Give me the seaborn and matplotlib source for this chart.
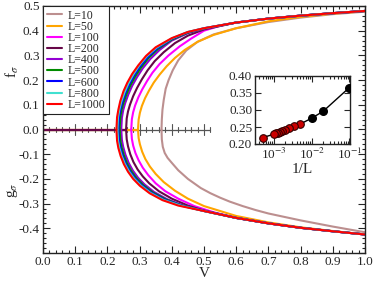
import numpy as np
import pandas as pd
import matplotlib
matplotlib.use("Agg")
import matplotlib.pyplot as plt
import seaborn as sns
from matplotlib.ticker import MultipleLocator

sns.set_style("ticks")
plt.rcParams['font.family'] = ['Liberation Serif', 'DejaVu Serif']
plt.rcParams['mathtext.fontset'] = 'stix'
plt.rcParams['axes.unicode_minus'] = False

# system sizes and their colours (grace-like palette)
L_values = [10, 50, 100, 200, 400, 500, 600, 800, 1000]
L_colors = ['#bc8f8f', '#ffa500', '#ff00ff', '#670748', '#9400d3',
            '#008b00', '#0000ff', '#40e0d0', '#ff0000']

# shared tail (curves for L >= 100 overlap at large V)
v_tail = [0.6, 0.7, 0.8, 0.9, 1.0]
f_tail = [0.433, 0.449, 0.461, 0.471, 0.480]
g_tail = [-0.358, -0.380, -0.398, -0.412, -0.425]

# upper branch f_sigma(V)
v_up_10 = [0.368, 0.369, 0.371, 0.375, 0.381, 0.39, 0.403, 0.42, 0.445, 0.48, 0.53, 0.6, 0.7, 0.8, 0.9, 1.0]
f_up_10 = [0.0, 0.04, 0.08, 0.12, 0.165, 0.2, 0.24, 0.28, 0.32, 0.355, 0.385, 0.41, 0.435, 0.453, 0.467, 0.477]
v_up_50 = [0.295, 0.297, 0.301, 0.307, 0.317, 0.329, 0.344, 0.362, 0.384, 0.41, 0.44, 0.48, 0.53, 0.6, 0.7, 0.8, 0.9, 1.0]
f_up_50 = [0.0, 0.04, 0.068, 0.095, 0.127, 0.157, 0.19, 0.222, 0.256, 0.29, 0.322, 0.355, 0.383, 0.41, 0.438, 0.456, 0.469, 0.479]
v_up_100 = [0.274, 0.276, 0.28, 0.286, 0.296, 0.308, 0.323, 0.34, 0.362, 0.39, 0.425, 0.46, 0.5, 0.55]
f_up_100 = [0.0, 0.042, 0.07, 0.097, 0.13, 0.162, 0.196, 0.23, 0.265, 0.3, 0.337, 0.368, 0.4, 0.42]
v_up_200 = [0.258, 0.26, 0.264, 0.27, 0.28, 0.292, 0.307, 0.325, 0.347, 0.375, 0.41, 0.45, 0.5]
f_up_200 = [0.0, 0.045, 0.073, 0.1, 0.135, 0.168, 0.203, 0.24, 0.277, 0.313, 0.35, 0.38, 0.405]
v_up_400 = [0.243, 0.245, 0.249, 0.255, 0.265, 0.277, 0.292, 0.31, 0.333, 0.362, 0.4, 0.45, 0.5]
f_up_400 = [0.0, 0.048, 0.078, 0.106, 0.142, 0.177, 0.212, 0.248, 0.285, 0.322, 0.36, 0.39, 0.408]
v_up_500 = [0.238, 0.24, 0.244, 0.25, 0.26, 0.272, 0.287, 0.305, 0.328, 0.357, 0.4, 0.45, 0.5]
f_up_500 = [0.0, 0.049, 0.079, 0.108, 0.145, 0.18, 0.216, 0.252, 0.29, 0.326, 0.364, 0.392, 0.409]
v_up_600 = [0.234, 0.236, 0.24, 0.246, 0.256, 0.268, 0.283, 0.301, 0.325, 0.355, 0.4, 0.45, 0.5]
f_up_600 = [0.0, 0.05, 0.08, 0.11, 0.148, 0.183, 0.219, 0.255, 0.293, 0.329, 0.367, 0.394, 0.41]
v_up_800 = [0.231, 0.233, 0.237, 0.243, 0.253, 0.265, 0.28, 0.298, 0.322, 0.352, 0.4, 0.45, 0.5]
f_up_800 = [0.0, 0.05, 0.08, 0.112, 0.15, 0.186, 0.222, 0.258, 0.296, 0.331, 0.369, 0.395, 0.41]
v_up_1000 = [0.228, 0.23, 0.234, 0.24, 0.25, 0.262, 0.277, 0.296, 0.32, 0.35, 0.4, 0.45, 0.5]
f_up_1000 = [0.0, 0.05, 0.08, 0.115, 0.155, 0.19, 0.225, 0.26, 0.298, 0.333, 0.37, 0.395, 0.41]

# lower branch g_sigma(V)
v_lo_10 = [0.368, 0.369, 0.372, 0.378, 0.387, 0.4, 0.42, 0.45, 0.49, 0.52, 0.55, 0.58, 0.62, 0.66, 0.7, 0.8, 0.9, 1.0]
g_lo_10 = [0.0, -0.04, -0.07, -0.095, -0.115, -0.135, -0.165, -0.2, -0.237, -0.258, -0.276, -0.292, -0.31, -0.326, -0.34, -0.368, -0.393, -0.416]
v_lo_50 = [0.295, 0.297, 0.301, 0.308, 0.318, 0.332, 0.35, 0.375, 0.41, 0.45, 0.5, 0.55, 0.6, 0.7, 0.8, 0.9, 1.0]
g_lo_50 = [0.0, -0.035, -0.06, -0.09, -0.12, -0.15, -0.18, -0.213, -0.248, -0.28, -0.31, -0.33, -0.35, -0.376, -0.396, -0.411, -0.425]
v_lo_100 = [0.274, 0.276, 0.28, 0.287, 0.297, 0.31, 0.327, 0.35, 0.38, 0.42, 0.47, 0.53]
g_lo_100 = [0.0, -0.038, -0.065, -0.095, -0.125, -0.155, -0.185, -0.218, -0.25, -0.28, -0.31, -0.335]
v_lo_200 = [0.258, 0.26, 0.264, 0.271, 0.281, 0.294, 0.31, 0.33, 0.36, 0.4, 0.45, 0.5]
g_lo_200 = [0.0, -0.04, -0.068, -0.1, -0.132, -0.162, -0.19, -0.218, -0.25, -0.28, -0.308, -0.328]
v_lo_400 = [0.243, 0.245, 0.249, 0.256, 0.266, 0.279, 0.295, 0.315, 0.345, 0.385, 0.44, 0.5]
g_lo_400 = [0.0, -0.042, -0.07, -0.102, -0.135, -0.166, -0.195, -0.222, -0.253, -0.282, -0.31, -0.329]
v_lo_500 = [0.238, 0.24, 0.244, 0.251, 0.261, 0.274, 0.29, 0.311, 0.341, 0.381, 0.43, 0.5]
g_lo_500 = [0.0, -0.043, -0.072, -0.104, -0.137, -0.168, -0.197, -0.225, -0.255, -0.283, -0.307, -0.33]
v_lo_600 = [0.234, 0.236, 0.24, 0.247, 0.257, 0.27, 0.286, 0.307, 0.337, 0.377, 0.43, 0.5]
g_lo_600 = [0.0, -0.044, -0.073, -0.105, -0.138, -0.169, -0.198, -0.226, -0.256, -0.284, -0.308, -0.33]
v_lo_800 = [0.231, 0.233, 0.237, 0.244, 0.254, 0.267, 0.283, 0.304, 0.334, 0.374, 0.43, 0.5]
g_lo_800 = [0.0, -0.045, -0.074, -0.106, -0.139, -0.17, -0.199, -0.227, -0.257, -0.285, -0.309, -0.33]
v_lo_1000 = [0.228, 0.23, 0.234, 0.241, 0.251, 0.264, 0.28, 0.301, 0.331, 0.371, 0.42, 0.5]
g_lo_1000 = [0.0, -0.046, -0.075, -0.107, -0.14, -0.171, -0.2, -0.228, -0.258, -0.286, -0.308, -0.33]

# flat zero part below threshold (visible for L=50 and L=200)
flat_V_50 = [0.0, 0.295]
flat_V_200 = [0.0, 0.258]

# inset: critical V vs 1/L
invL_black = [0.1, 0.02, 0.01]
Vc_black = [0.366, 0.296, 0.276]
invL_red = [1/200, 1/300, 1/400, 1/500, 1/600, 1/700, 1/800, 1/900, 1/1000, 1/2000]
Vc_red = [0.259, 0.252, 0.2465, 0.242, 0.2385, 0.2357, 0.233, 0.231, 0.229, 0.219]


def branch(v, y, tail_y, with_tail):
    if with_tail:
        return list(v) + v_tail, list(y) + tail_y
    return list(v), list(y)


upper = {10: (v_up_10, f_up_10, False), 50: (v_up_50, f_up_50, False),
         100: (v_up_100, f_up_100, True), 200: (v_up_200, f_up_200, True),
         400: (v_up_400, f_up_400, True), 500: (v_up_500, f_up_500, True),
         600: (v_up_600, f_up_600, True), 800: (v_up_800, f_up_800, True),
         1000: (v_up_1000, f_up_1000, True)}
lower = {10: (v_lo_10, g_lo_10, False), 50: (v_lo_50, g_lo_50, False),
         100: (v_lo_100, g_lo_100, True), 200: (v_lo_200, g_lo_200, True),
         400: (v_lo_400, g_lo_400, True), 500: (v_lo_500, g_lo_500, True),
         600: (v_lo_600, g_lo_600, True), 800: (v_lo_800, g_lo_800, True),
         1000: (v_lo_1000, g_lo_1000, True)}

fig = plt.figure(figsize=(3.74, 2.82), dpi=100)
ax = fig.add_axes([43/374, 1 - 253/282, 322/374, 247/282])

# middle axis at y = 0
ax.plot([0, 0.52], [0, 0], color='#555555', lw=0.9, zorder=1.5)
for xt in np.arange(0, 0.521, 0.02):
    major = abs(xt * 10 - round(xt * 10)) < 1e-6
    h = 0.021 if major else 0.011
    ax.plot([xt, xt], [-h, h], color='#555555', lw=0.8, zorder=1.5)

sns.lineplot(x=flat_V_50, y=[0, 0], color=L_colors[1], lw=1.6, ax=ax, zorder=1.8)
sns.lineplot(x=flat_V_200, y=[0, 0], color=L_colors[3], lw=1.6, ax=ax, zorder=1.9)

for i, (L, col) in enumerate(zip(L_values, L_colors)):
    vu, fu = branch(*upper[L][:2], f_tail, upper[L][2])
    vl, gl = branch(*lower[L][:2], g_tail, lower[L][2])
    df_u = pd.DataFrame({'V': vu, 'y': fu})
    df_l = pd.DataFrame({'V': vl, 'y': gl})
    sns.lineplot(data=df_u, x='V', y='y', color=col, lw=1.5, sort=False,
                 label=f'L={L}', ax=ax, zorder=2 + i * 0.01)
    sns.lineplot(data=df_l, x='V', y='y', color=col, lw=1.5, sort=False,
                 ax=ax, zorder=2 + i * 0.01)

ax.set_xlim(0, 1.0)
ax.set_ylim(-0.5, 0.5)
ax.xaxis.set_major_locator(MultipleLocator(0.1))
ax.xaxis.set_minor_locator(MultipleLocator(0.02))
ax.yaxis.set_major_locator(MultipleLocator(0.1))
ax.yaxis.set_minor_locator(MultipleLocator(0.02))
ax.set_xticklabels([f'{t:.1f}' for t in ax.get_xticks()])
yt = ax.get_yticks()
ax.set_yticklabels(['' if t < -0.45 else ('0.0' if abs(t) < 1e-9 else f'{t:.1f}') for t in yt])
ax.tick_params(which='both', direction='in', top=True, right=True, labelsize=9.5,
               width=0.8, pad=2.5)
ax.tick_params(which='major', length=5)
ax.tick_params(which='minor', length=2.5)
for s in ax.spines.values():
    s.set_linewidth(1.0)
    s.set_color('#222222')
ax.set_xlabel('V', fontsize=11, labelpad=-1)
ax.set_ylabel('')
fig.text(12/374, 1 - 72/282, r'f$_\sigma$', rotation=90, fontsize=11, ha='center', va='center')
fig.text(12/374, 1 - 190/282, r'g$_\sigma$', rotation=90, fontsize=11, ha='center', va='center')

leg = ax.legend(loc='upper left', bbox_to_anchor=(0, 1), borderaxespad=0,
                fontsize=8.5, frameon=True, fancybox=False, framealpha=1,
                edgecolor='#222222', handlelength=1.3, handletextpad=0.5,
                labelspacing=-0.07, borderpad=0.3)
leg.get_frame().set_linewidth(0.8)
for h in leg.get_lines():
    h.set_linewidth(1.5)

# inset
axi = fig.add_axes([255/374, 1 - 144/282, 95/374, 68/282])
sns.lineplot(x=invL_red + invL_black[::-1], y=Vc_red + Vc_black[::-1], color='black',
             lw=1.0, ax=axi, sort=True, zorder=1)
axi.scatter(invL_black, Vc_black, s=30, color='black', zorder=3)
axi.scatter(invL_red, Vc_red, s=30, color='#cc0000', edgecolor='#330000', lw=0.8, zorder=3)
axi.set_xscale('log')
axi.set_xlim(3.1e-4, 0.104)
axi.set_ylim(0.2, 0.4)
axi.yaxis.set_major_locator(MultipleLocator(0.05))
axi.set_yticklabels([f'{t:.2f}' for t in axi.get_yticks()])
axi.set_xticks([1e-3, 1e-2, 1e-1])
axi.set_xticklabels([r'10$^{-3}$', r'10$^{-2}$', r'10$^{-1}$'])
axi.tick_params(which='both', direction='in', top=True, right=True, labelsize=9.5,
                width=0.8, pad=2)
axi.tick_params(which='major', length=4)
axi.tick_params(which='minor', length=2)
for s in axi.spines.values():
    s.set_linewidth(1.0)
    s.set_color('#222222')
axi.set_xlabel('1/L', fontsize=11, labelpad=0.5)
axi.set_ylabel('')

fig.savefig('out.png', dpi=100)
